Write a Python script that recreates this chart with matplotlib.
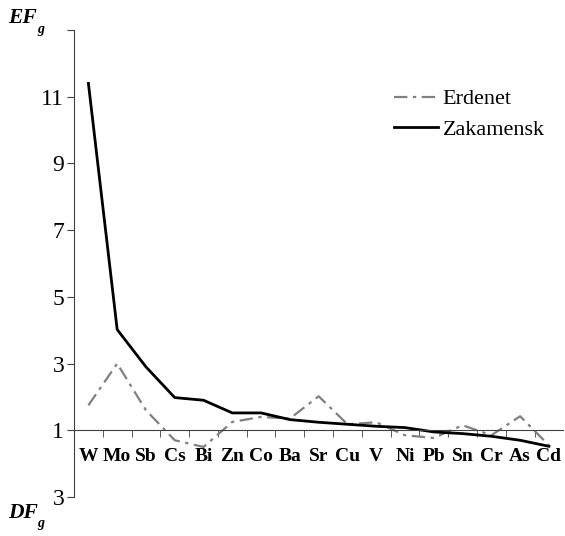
import matplotlib.pyplot as plt
import numpy as np

plt.rcParams["font.family"] = ["Liberation Serif", "DejaVu Serif"]

elements = ["W", "Mo", "Sb", "Cs", "Bi", "Zn", "Co", "Ba", "Sr", "Cu",
            "V", "Ni", "Pb", "Sn", "Cr", "As", "Cd"]
erdenet = [1.75, 3.0, 1.6, 0.7, 0.5, 1.25, 1.4, 1.35, 2.02, 1.18,
           1.24, 0.85, 0.77, 1.15, 0.85, 1.42, 0.55]
zakamensk = [11.4, 4.02, 2.9, 1.98, 1.9, 1.52, 1.52, 1.32, 1.24, 1.18,
             1.12, 1.08, 0.95, 0.9, 0.82, 0.7, 0.52]
ytick_pos = [13, 11, 9, 7, 5, 3, 1, -1]
ytick_lab = ["", "11", "9", "7", "5", "3", "1", "3"]

fig = plt.figure(figsize=(5.65, 5.36), dpi=100)
ax = fig.add_axes([0.131, 0.0728, 0.866, 0.8712])

x = np.arange(len(elements))
ax.plot(x, erdenet, color="#808080", linestyle=(0, (6, 2.5, 1.5, 2.5)),
        linewidth=1.6, label="Erdenet")
ax.plot(x, zakamensk, color="black", linewidth=2.0, label="Zakamensk")

ax.set_xlim(-0.5, len(elements) - 0.5)
ax.set_ylim(-1, 13)

# y axis
ax.spines["top"].set_visible(False)
ax.spines["right"].set_visible(False)
ax.spines["left"].set_color("#404040")
ax.set_yticks(ytick_pos)
ax.set_yticklabels(ytick_lab, fontsize=17)
ax.tick_params(axis="y", direction="out", length=5, color="#404040", pad=2)

# x axis drawn at EF = 1
ax.spines["bottom"].set_position(("data", 1))
ax.spines["bottom"].set_color("#404040")
ax.set_xticks(x)
ax.set_xticklabels(elements, fontsize=14, fontweight="bold")
ax.set_xticks(np.arange(0.5, len(elements) - 0.5, 1), minor=True)
ax.tick_params(axis="x", which="major", length=0, pad=13)
ax.tick_params(axis="x", which="minor", direction="out", length=5, color="#404040")

ax.legend(loc="upper right", bbox_to_anchor=(1.003, 0.917), frameon=False,
          fontsize=16, handlelength=2.0, handletextpad=0.2, labelspacing=0.45)

fig.text(0.014, 0.957, "EF", fontsize=15.5, fontweight="bold", fontstyle="italic")
fig.text(0.066, 0.938, "g", fontsize=10, fontweight="bold", fontstyle="italic")
fig.text(0.014, 0.034, "DF", fontsize=15.5, fontweight="bold", fontstyle="italic")
fig.text(0.066, 0.016, "g", fontsize=10, fontweight="bold", fontstyle="italic")

fig.savefig("out.png", dpi=100)
